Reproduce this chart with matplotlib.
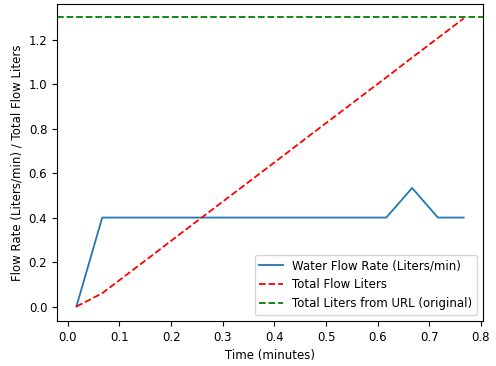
import numpy as np
import matplotlib
matplotlib.use("Agg")
import matplotlib.pyplot as plt

plt.rcParams["font.size"] = 8.5
plt.rcParams["lines.linewidth"] = 1.3

# sample times (minutes) and readings
time_min = [0.0167, 0.0667, 0.1167, 0.1667, 0.2167, 0.2667, 0.3167, 0.3667,
            0.4167, 0.4667, 0.5167, 0.5667, 0.6167, 0.6667, 0.7167, 0.7667]
flow_rate = [0.0, 0.4, 0.4, 0.4, 0.4, 0.4, 0.4, 0.4,
             0.4, 0.4, 0.4, 0.4, 0.4, 0.533, 0.4, 0.4]
total_flow = [0.0, 0.06, 0.148, 0.236, 0.325, 0.413, 0.501, 0.589,
              0.677, 0.766, 0.854, 0.942, 1.030, 1.119, 1.207, 1.295]
url_total = 1.3

fig, ax = plt.subplots(figsize=(4.96, 3.66), dpi=100)
fig.subplots_adjust(left=0.115, right=0.974, top=0.989, bottom=0.123)

ax.plot(time_min, flow_rate, label="Water Flow Rate (Liters/min)")
ax.plot(time_min, total_flow, "r--", label="Total Flow Liters")
ax.axhline(url_total, color="g", linestyle="--", label="Total Liters from URL (original)")

ax.set_xlabel("Time (minutes)")
ax.set_ylabel("Flow Rate (Liters/min) / Total Flow Liters")
ax.legend(loc="lower right")

plt.savefig("out.png", dpi=100)
